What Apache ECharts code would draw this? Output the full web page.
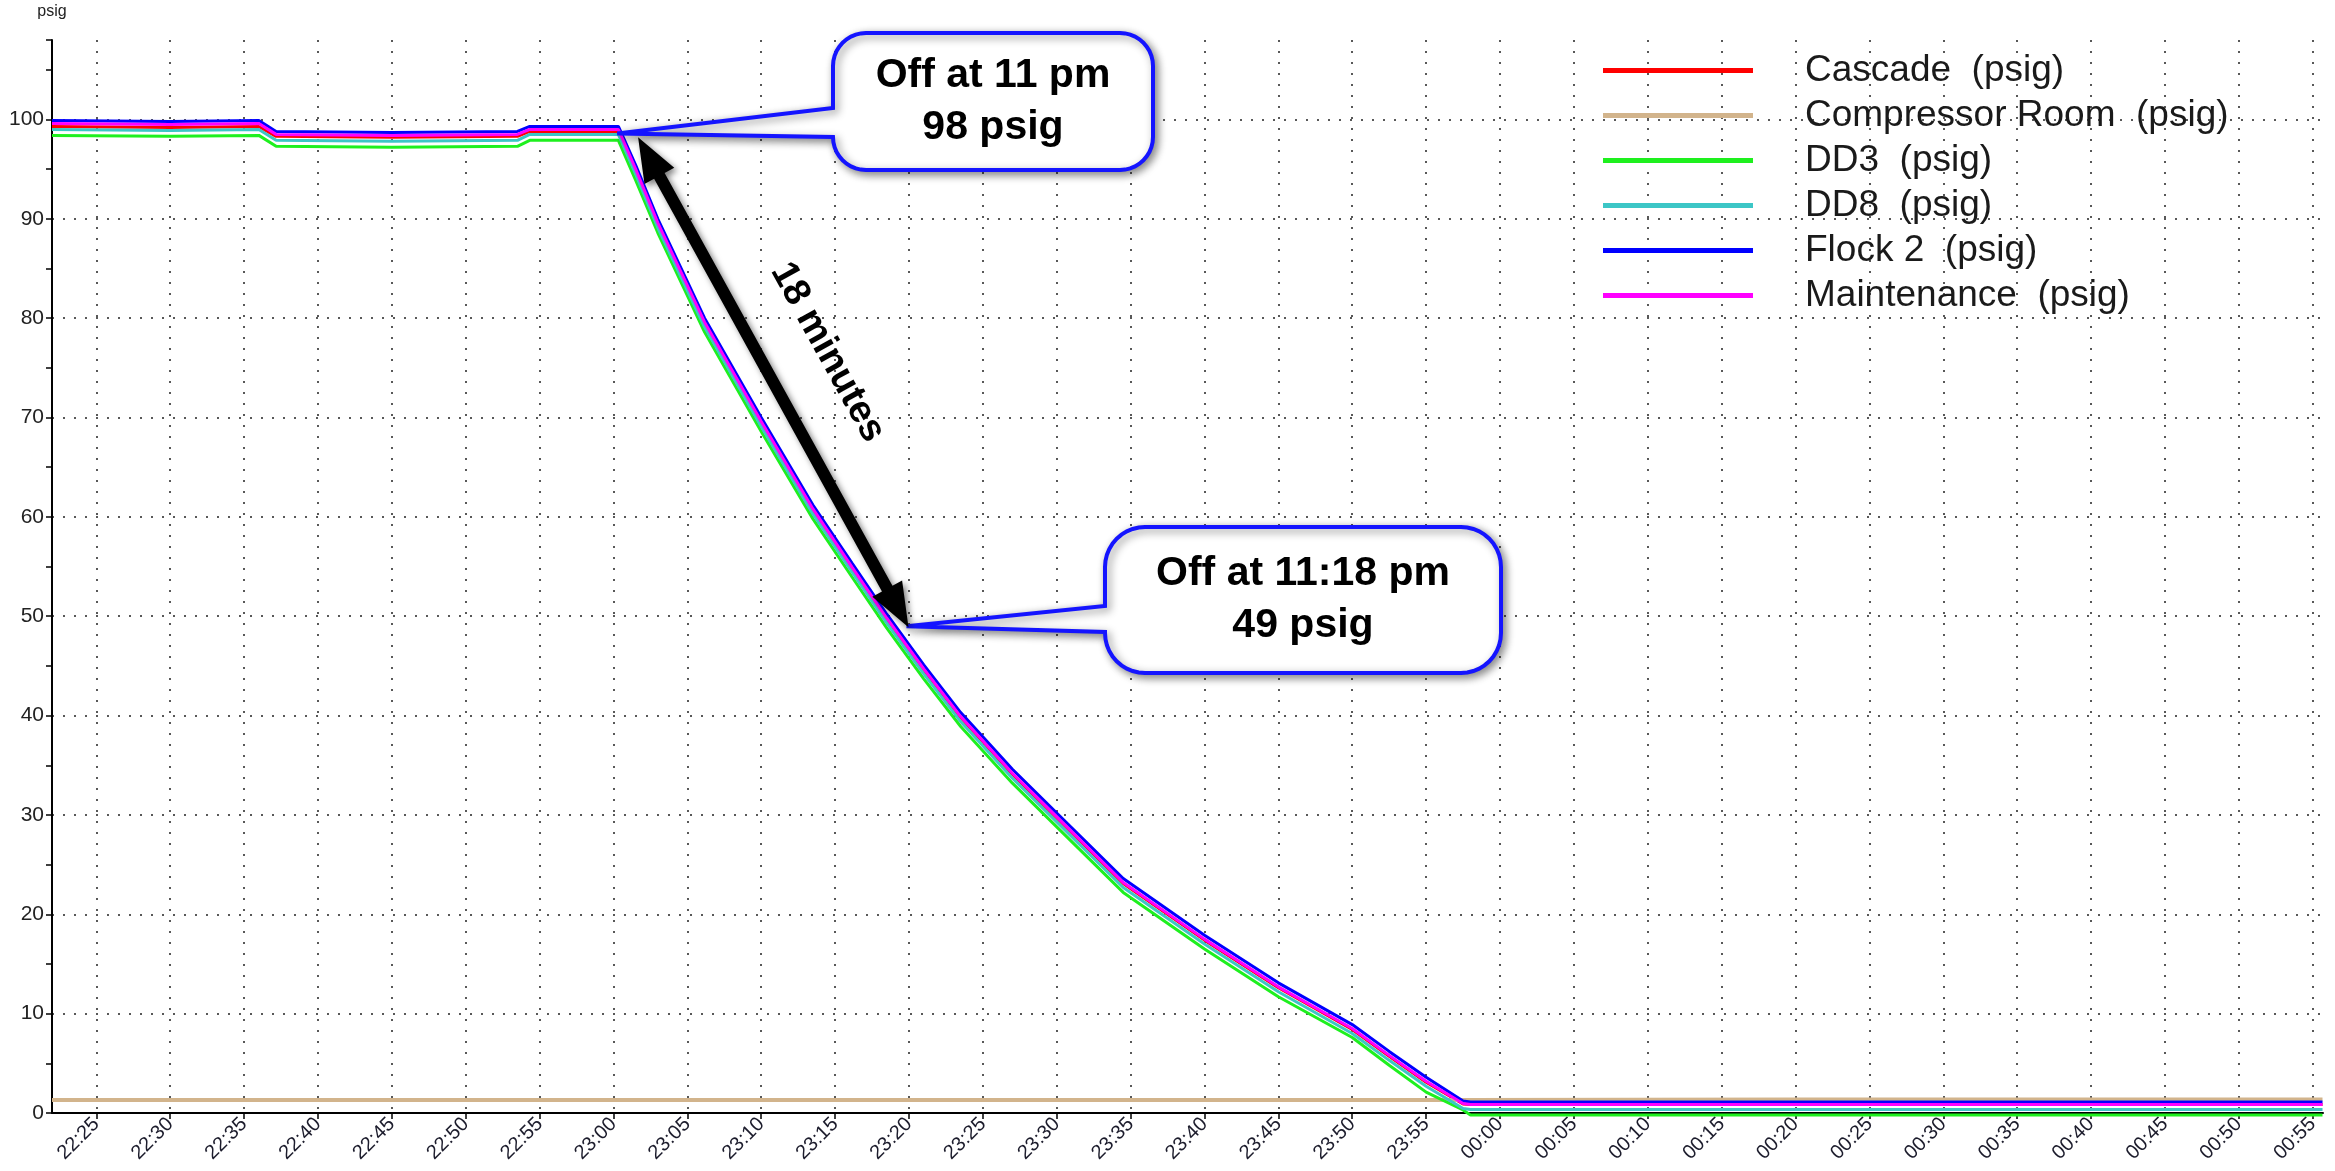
<!DOCTYPE html>
<html>
<head>
<meta charset="utf-8">
<title>psig</title>
<script src="https://cdn.jsdelivr.net/npm/echarts@6/dist/echarts.min.js"></script>
<style>
html, body {margin: 0; padding: 0; background: #fff;}
#chart {width: 2335px; height: 1171px;}
</style>
</head>
<body>
<div id="chart"></div>
<script>
// sample times shared by the five header pressures
var times = ['22:22:00', '22:30:00', '22:36:00', '22:37:10', '22:45:00', '22:53:30', '22:54:20', '23:00:20',
    '23:01:30', '23:03:00', '23:06:10', '23:10:00', '23:13:30', '23:16:10', '23:18:30', '23:21:00', '23:23:30',
    '23:27:00', '23:30:00', '23:34:30', '23:40:00', '23:45:00', '23:50:00', '23:52:30', '23:55:00', '23:57:30',
    '23:58:00', '00:20:00', '00:40:00', '00:55:40'];

var cascade     = [99.3, 99.2, 99.3, 98.3, 98.2, 98.3, 98.8, 98.8, 94.9, 89.5, 79.5, 69.5, 60.7, 54.8, 49.7, 44.6, 39.8,
    34.1, 29.7, 23.1, 17.4, 12.6, 8.4, 5.7, 3.1, 0.9, 0.85, 0.85, 0.85, 0.85];
var dd3         = [98.4, 98.3, 98.4, 97.3, 97.2, 97.3, 97.9, 97.9, 93.9, 88.6, 78.6, 68.6, 59.8, 53.9, 48.8, 43.7, 38.9,
    33.2, 28.8, 22.2, 16.5, 11.7, 7.6, 4.8, 2.1, 0.3, -0.2, -0.2, -0.2, -0.2];
var dd8         = [99.0, 98.9, 99.0, 97.9, 97.8, 97.9, 98.5, 98.5, 94.5, 89.1, 79.1, 69.1, 60.3, 54.4, 49.3, 44.2, 39.4,
    33.7, 29.3, 22.7, 17.0, 12.2, 8.0, 5.3, 2.7, 0.45, 0.35, 0.35, 0.35, 0.35];
var flock2      = [99.9, 99.8, 99.9, 98.8, 98.7, 98.8, 99.3, 99.3, 95.4, 90.0, 80.0, 70.0, 61.2, 55.3, 50.2, 45.1, 40.3,
    34.6, 30.2, 23.6, 17.9, 13.1, 8.9, 6.2, 3.6, 1.2, 1.1, 1.1, 1.1, 1.1];
var maintenance = [99.6, 99.5, 99.6, 98.5, 98.4, 98.5, 99.0, 99.0, 95.0, 89.6, 79.6, 69.6, 60.8, 54.9, 49.8, 44.7, 39.9,
    34.2, 29.8, 23.2, 17.5, 12.7, 8.5, 5.8, 3.2, 0.95, 0.85, 0.85, 0.85, 0.85];

var compTimes = ['22:22:00', '22:40:00', '23:00:00', '23:20:00', '23:40:00', '23:58:00', '00:20:00', '00:40:00', '00:55:40'];
var compRoom  = [1.3, 1.3, 1.3, 1.3, 1.3, 1.3, 1.35, 1.35, 1.35];

var seriesNames  = ['Cascade  (psig)', 'Compressor Room  (psig)', 'DD3  (psig)', 'DD8  (psig)', 'Flock 2  (psig)', 'Maintenance  (psig)'];
var seriesColors = ['#ff0000', '#d2b48c', '#1ef01e', '#3cc6c6', '#0000ff', '#ff00ff'];

var xStart = '22:22:00';
var xEnd = '00:55:42';
var tickMinutes = 5;
var yMax = 108;

// annotation anchors (time, psig)
var noteTimes  = ['23:00:15', '23:19:50'];
var noteValues = [98.6, 49.0];
var noteLines  = [['Off at 11 pm', '98 psig'], ['Off at 11:18 pm', '49 psig']];
var arrowTimes  = ['23:01:40', '23:19:58'];
var arrowValues = [98.2, 48.9];

function toMs(s) {
    var p = s.split(':');
    var h = +p[0];
    return Date.UTC(2024, 0, h < 12 ? 2 : 1, h, +p[1], +(p[2] || 0));
}
function pad(n) { return n < 10 ? '0' + n : '' + n; }
function pairs(ts, vals) {
    return ts.map(function (t, i) { return [toMs(t), vals[i]]; });
}

var chart = echarts.init(document.getElementById('chart'), null, {renderer: 'canvas'});
var font = 'Liberation Sans';
var dots = {color: '#222', width: 1.5, type: [2, 9]};

var valueSets = [pairs(times, cascade), pairs(compTimes, compRoom), pairs(times, dd3),
    pairs(times, dd8), pairs(times, flock2), pairs(times, maintenance)];

var option = {
    animation: false,
    useUTC: true,
    backgroundColor: '#fff',
    grid: {left: 52, right: 12, top: 40, bottom: 58, outerBoundsMode: 'none'},
    legend: {
        left: 1598, top: 47, orient: 'vertical',
        icon: 'rect', itemWidth: 150, itemHeight: 5, itemGap: 8,
        selectedMode: false,
        textStyle: {fontFamily: font, fontSize: 37, lineHeight: 37, color: '#1a1a1a', padding: [0, 0, 0, 47]},
        data: seriesNames
    },
    xAxis: {
        type: 'time',
        min: toMs(xStart), max: toMs(xEnd),
        // a shade above 5 min so the time scale settles on 5-minute steps
        minInterval: 5.5 * 60 * 1000, maxInterval: 5.5 * 60 * 1000,
        axisLine: {lineStyle: {color: '#000', width: 2}},
        axisTick: {show: true, length: 6, lineStyle: {color: '#000', width: 1.5}},
        axisLabel: {
            rotate: 45, interval: 0, margin: 8,
            showMinLabel: false, showMaxLabel: false,
            fontFamily: font, fontSize: 20, color: '#1c1c2c',
            formatter: function (v) {
                var d = new Date(v);
                if (d.getUTCMinutes() % tickMinutes !== 0 || d.getUTCSeconds() !== 0) return '';
                return pad(d.getUTCHours()) + ':' + pad(d.getUTCMinutes());
            }
        },
        splitLine: {show: true, showMinLine: false, showMaxLine: false, lineStyle: dots}
    },
    yAxis: {
        type: 'value', min: 0, max: yMax, interval: 10,
        name: 'psig', nameGap: 20,
        nameTextStyle: {fontFamily: font, fontSize: 16, color: '#222'},
        axisLine: {show: true, lineStyle: {color: '#000', width: 2}},
        axisTick: {show: true, length: 6, lineStyle: {color: '#000', width: 1.5}},
        minorTick: {show: true, splitNumber: 2, length: 6, lineStyle: {color: '#000', width: 1.5}},
        axisLabel: {showMaxLabel: false, margin: 8, fontFamily: font, fontSize: 21, color: '#222'},
        splitLine: {show: true, showMinLine: false, showMaxLine: false, lineStyle: dots}
    },
    series: seriesNames.map(function (name, i) {
        return {
            name: name, type: 'line', color: seriesColors[i],
            showSymbol: false, symbol: 'none', clip: false,
            lineStyle: {width: i === 1 ? 4 : 3, color: seriesColors[i]},
            data: valueSets[i]
        };
    })
};
chart.setOption(option);

function px(t, v) {
    return chart.convertToPixel({gridIndex: 0}, [toMs(t), v]);
}

// rounded box with a wedge pointing at tip, as polygon points
function callout(tip, b) {
    var pts = [];
    var x0 = b.x, y0 = b.y, x1 = b.x + b.w, y1 = b.y + b.h, r = b.r;
    function arc(cx, cy, a0, a1) {
        for (var k = 0; k <= 10; k++) {
            var a = a0 + (a1 - a0) * k / 10;
            pts.push([cx + r * Math.cos(a), cy + r * Math.sin(a)]);
        }
    }
    arc(x0 + r, y0 + r, Math.PI, 1.5 * Math.PI);
    arc(x1 - r, y0 + r, 1.5 * Math.PI, 2 * Math.PI);
    arc(x1 - r, y1 - r, 0, 0.5 * Math.PI);
    arc(x0 + r, y1 - r, 0.5 * Math.PI, Math.PI);
    pts.push([x0, b.a2], [tip[0], tip[1]], [x0, b.a1]);
    return pts;
}

function doubleArrow(a, b, head, headW, shaftW) {
    var dx = b[0] - a[0], dy = b[1] - a[1];
    var len = Math.sqrt(dx * dx + dy * dy);
    var ux = dx / len, uy = dy / len, nx = -uy, ny = ux;
    function p(base, along, side) {
        return [base[0] + ux * along + nx * side, base[1] + uy * along + ny * side];
    }
    return [a, p(a, head, headW), p(a, head, shaftW), p(b, -head, shaftW), p(b, -head, headW), b,
        p(b, -head, -headW), p(b, -head, -shaftW), p(a, head, -shaftW), p(a, head, -headW)];
}

var boxes = [
    {x: 833, y: 33, w: 320, h: 137, r: 33, a1: 108, a2: 137},
    {x: 1105, y: 527, w: 396, h: 146, r: 40, a1: 606, a2: 632}
];
var shadow = {shadowBlur: 8, shadowOffsetX: 3, shadowOffsetY: 3, shadowColor: 'rgba(0,0,0,0.45)'};

var elements = [];
boxes.forEach(function (b, i) {
    var tip = px(noteTimes[i], noteValues[i]);
    elements.push({
        type: 'polygon', z: 100,
        shape: {points: callout(tip, b)},
        style: Object.assign({fill: '#fff', stroke: '#1414ff', lineWidth: 4}, shadow)
    });
    noteLines[i].forEach(function (line, j) {
        elements.push({
            type: 'text', z: 101,
            x: b.x + b.w / 2, y: b.y + b.h / 2 + (j === 0 ? -26 : 26),
            style: {
                text: line, font: 'bold 41px "Liberation Sans"', fill: '#000',
                textAlign: 'center', textVerticalAlign: 'middle', align: 'center', verticalAlign: 'middle'
            }
        });
    });
});

var aTop = px(arrowTimes[0], arrowValues[0]);
var aBot = px(arrowTimes[1], arrowValues[1]);
elements.push({
    type: 'polygon', z: 100,
    shape: {points: doubleArrow(aTop, aBot, 44, 17, 6)},
    style: {fill: '#000', shadowBlur: 6, shadowOffsetX: 3, shadowOffsetY: 3, shadowColor: 'rgba(0,0,0,0.5)'}
});

var ang = Math.atan2(aBot[1] - aTop[1], aBot[0] - aTop[0]);
var mid = [(aTop[0] + aBot[0]) / 2, (aTop[1] + aBot[1]) / 2];
elements.push({
    type: 'text', z: 101,
    x: mid[0] + Math.sin(ang) * 62, y: mid[1] - Math.cos(ang) * 62,
    rotation: -ang,
    style: {
        text: '18 minutes', font: 'bold 38px "Liberation Sans"', fill: '#000',
        textAlign: 'center', textVerticalAlign: 'middle', align: 'center', verticalAlign: 'middle'
    }
});

chart.setOption({graphic: {elements: elements}});
</script>
</body>
</html>
